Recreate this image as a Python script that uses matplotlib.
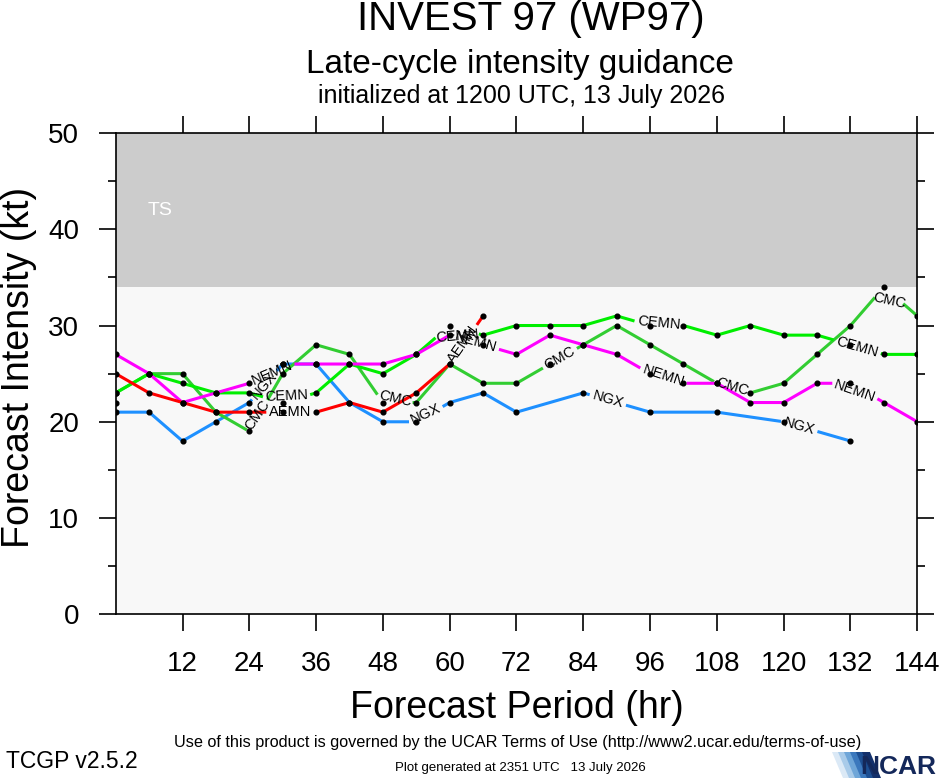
import matplotlib
matplotlib.use('Agg')
import matplotlib.pyplot as plt
import numpy as np
from matplotlib.patches import Polygon

plt.rcParams['font.family'] = ['Liberation Sans', 'DejaVu Sans']

W, H = 940, 780

# ---------------- data ----------------
hours = list(range(0, 145, 6))
ngx_hours = [0, 6, 12, 18, 24, 30, 36, 42, 48, 54, 60, 66, 72, 84, 96, 108, 120, 132]
aemn_hours = list(range(0, 67, 6))

nemn = [27, 25, 22, 23, 24, 26, 26, 26, 26, 27, 29, 28, 27, 29, 28, 27, 25, 24, 24, 22, 22, 24, 24, 22, 20]
cemn = [23, 25, 24, 23, 23, 22, 23, 26, 25, 27, 30, 29, 30, 30, 30, 31, 30, 30, 29, 30, 29, 29, 28, 27, 27]
cmc = [23, 25, 25, 21, 19, 25, 28, 27, 22, 22, 26, 24, 24, 26, 28, 30, 28, 26, 24, 23, 24, 27, 30, 34, 31]
ngx = [21, 21, 18, 20, 22, 26, 26, 22, 20, 20, 22, 23, 21, 23, 21, 21, 20, 18]
aemn = [25, 23, 22, 21, 21, 21, 21, 22, 21, 23, 26, 31]

init_only_hours = [0]
init_only = [22]

x_ticks = list(range(12, 145, 12))
y_ticks = list(range(0, 51, 10))
ts_threshold = 34

# ---------------- figure ----------------
fig = plt.figure(figsize=(W / 100, H / 100), dpi=100)
fig.patch.set_facecolor('white')


def fx(x):
    return x / W


def fy(y):
    return 1 - y / H


L, R, T_, B = 115.7, 917.3, 133.0, 614.3
ax = fig.add_axes([fx(L), fy(B), (R - L) / W, (B - T_) / H])
ax.set_xlim(0, 144)
ax.set_ylim(0, 50)
ax.set_facecolor('#f8f8f8')
ax.axhspan(ts_threshold, 50, color='#cccccc', lw=0, zorder=0)
ax.text(8, 42, 'TS', color='white', fontsize=14, ha='center', va='center', zorder=1)

ax.set_xticks(x_ticks)
ax.set_xticklabels([str(t) for t in x_ticks])
ax.set_yticks(y_ticks)
ax.set_yticks(list(range(5, 50, 10)), minor=True)
ax.tick_params(which='both', direction='out', top=True, right=True, bottom=True, left=True,
               labeltop=False, labelright=False, width=1.2, color='black')
ax.tick_params(axis='x', which='major', length=12.2, labelsize=20, pad=14)
ax.tick_params(axis='y', which='major', length=12.2, labelsize=20, pad=14)
ax.tick_params(axis='y', which='minor', length=6)
for sp in ax.spines.values():
    sp.set_linewidth(1.2)

fig.canvas.draw()
renderer = fig.canvas.get_renderer()
TD = ax.transData
LFS = 10.5


def draw_series(xs, ys, color, name, label_hours, z):
    xs = np.asarray(xs, float)
    ys = np.asarray(ys, float)
    pts = TD.transform(np.column_stack([xs, ys]))
    seg = np.hypot(np.diff(pts[:, 0]), np.diff(pts[:, 1]))
    s = np.concatenate([[0.0], np.cumsum(seg)])
    total = s[-1]

    def point_at(sv):
        sv = min(max(sv, 0.0), total)
        k = int(np.searchsorted(s, sv, side='right') - 1)
        k = min(max(k, 0), len(seg) - 1)
        f = (sv - s[k]) / seg[k] if seg[k] > 0 else 0
        return pts[k] + f * (pts[k + 1] - pts[k])

    gaps = []
    for h in label_hours:
        i = int(np.searchsorted(xs, h, side='right') - 1)
        i = min(max(i, 0), len(xs) - 2)
        f = (h - xs[i]) / (xs[i + 1] - xs[i])
        sc = s[i] + f * seg[i]
        t = ax.text(0, 0, name, fontsize=LFS)
        w = t.get_window_extent(renderer).width
        t.remove()
        half = w / 2 + 3
        a, b = sc - half, sc + half
        pa, pb = point_at(a), point_at(b)
        ang = np.degrees(np.arctan2(pb[1] - pa[1], pb[0] - pa[0]))
        mid = TD.inverted().transform((pa + pb) / 2)
        ax.text(mid[0], mid[1], name, rotation=ang, rotation_mode='anchor',
                ha='center', va='center', fontsize=LFS, color='black', zorder=7)
        gaps.append((a, b))

    gaps.sort()
    visible = []
    cur = 0.0
    for a, b in gaps:
        if a > cur:
            visible.append((cur, a))
        cur = max(cur, b)
    if cur < total:
        visible.append((cur, total))
    for u, v in visible:
        piece = [point_at(u)]
        for k in range(len(s)):
            if u < s[k] < v:
                piece.append(pts[k])
        piece.append(point_at(v))
        dpts = TD.inverted().transform(np.array(piece))
        ax.plot(dpts[:, 0], dpts[:, 1], color=color, lw=2.2, solid_capstyle='butt', zorder=z)
    ax.plot(xs, ys, 'o', color='black', ms=3.4, ls='none', zorder=6)


draw_series(ngx_hours, ngx, '#1e90ff', 'NGX', [26.7, 55.8, 88.4, 122.8], 3)
draw_series(hours, cmc, '#32cd32', 'CMC', [25.5, 49.8, 79.8, 110.8, 138.8], 3.1)
draw_series(hours, cemn, '#00ee00', 'CEMN', [30.7, 61.0, 97.5, 133.2], 3.2)
draw_series(hours, nemn, '#ff00ff', 'NEMN', [28.0, 64.6, 98.3, 133.0], 3.3)
draw_series(aemn_hours, aemn, '#ff0000', 'AEMN', [31.4, 62.4], 3.4)
ax.plot(init_only_hours, init_only, 'o', color='black', ms=3.4, ls='none', zorder=6)

# ---------------- text ----------------
fig.text(fx(531), fy(30), 'INVEST 97 (WP97)', fontsize=29, ha='center', va='baseline')
fig.text(fx(520), fy(73), 'Late-cycle intensity guidance', fontsize=24, ha='center', va='baseline')
fig.text(fx(521), fy(103), 'initialized at 1200 UTC, 13 July 2026', fontsize=18, ha='center', va='baseline')
fig.text(fx(516.5), fy(718), 'Forecast Period (hr)', fontsize=27, ha='center', va='baseline')
fig.text(fx(19), fy(367), 'Forecast Intensity (kt)', fontsize=27, ha='center', va='center', rotation=90)
fig.text(fx(518), fy(747), 'Use of this product is governed by the UCAR Terms of Use (http://www2.ucar.edu/terms-of-use)',
         fontsize=11.7, ha='center', va='baseline')
fig.text(fx(6), fy(768), 'TCGP v2.5.2', fontsize=16.5, ha='left', va='baseline')
fig.text(fx(520), fy(771), 'Plot generated at 2351 UTC   13 July 2026', fontsize=9.5, ha='center', va='baseline')

# NCAR logo
shades = ['#dbe9f6', '#a9cbe9', '#6fa6d8', '#3b78bd', '#1d4f93', '#13306b']
for j, c in enumerate(shades):
    x0 = 832 + j * 6
    poly = [(fx(x0), fy(752)), (fx(x0 + 8), fy(752)), (fx(x0 + 19), fy(778)), (fx(x0 + 11), fy(778))]
    fig.patches.append(Polygon(poly, closed=True, transform=fig.transFigure, facecolor=c, edgecolor='none'))
fig.text(fx(936), fy(774), 'NCAR', fontsize=19, fontweight='bold', color='#14285a', ha='right', va='baseline')

fig.savefig('out.png', dpi=100)
